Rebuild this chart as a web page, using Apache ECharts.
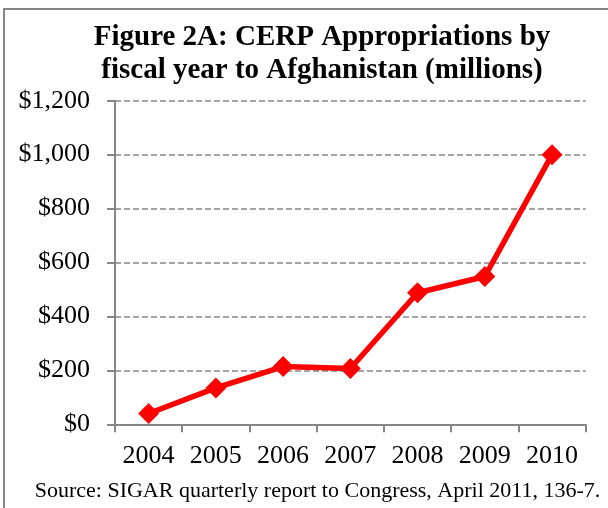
<!DOCTYPE html>
<html><head><meta charset="utf-8">
<script src="https://cdn.jsdelivr.net/npm/echarts@6/dist/echarts.min.js"></script>
<style>html,body{margin:0;padding:0;background:#fff}#c{width:608px;height:508px}</style>
</head><body><div id="c"></div>
<script>
const years = ['2004','2005','2006','2007','2008','2009','2010'];
const appropriations = [40, 135, 214, 207, 488, 548, 1000];
const yTicks = [0, 200, 400, 600, 800, 1000, 1200];
const titleLines = ['Figure 2A: CERP Appropriations by', 'fiscal year to Afghanistan (millions)'];
const sourceText = 'Source: SIGAR quarterly report to Congress, April 2011, 136-7.';

const serif = '"Liberation Serif", "DejaVu Serif", serif';
const chart = echarts.init(document.getElementById('c'));
chart.setOption({
  animation: false,
  backgroundColor: '#fff',
  title: {
    text: titleLines.join('\n'),
    left: 317, textAlign: 'center', top: 16.5,
    textStyle: { fontFamily: serif, fontSize: 29, fontWeight: 'bold', color: '#000', lineHeight: 32.5 }
  },
  graphic: [
    { type: 'rect', shape: { x: 4, y: 9, width: 620, height: 520 }, style: { fill: 'none', stroke: '#868686', lineWidth: 2 }, z: -1 },
    { type: 'text', x: 317.5, y: 491.6, style: { text: sourceText, font: '22px ' + serif, fill: '#000', align: 'center', verticalAlign: 'middle' } }
  ],
  grid: { left: 115, right: 22.3, top: 100.7, bottom: 83.7 },
  xAxis: {
    type: 'category', data: years, boundaryGap: true,
    axisLine: { lineStyle: { color: '#868686', width: 2 } },
    axisTick: { show: true, length: 8, lineStyle: { color: '#868686', width: 2 } },
    axisLabel: { fontFamily: serif, fontSize: 26, color: '#000', margin: 19, interval: 0, hideOverlap: false }
  },
  yAxis: {
    type: 'value', min: 0, max: 1200, interval: 200,
    axisLine: { show: true, lineStyle: { color: '#868686', width: 2 } },
    axisTick: { show: true, length: 8, lineStyle: { color: '#868686', width: 2 } },
    splitLine: { lineStyle: { color: '#868686', type: [6, 3], width: 1.5 } },
    axisLabel: {
      fontFamily: serif, fontSize: 26, color: '#000', margin: 25,
      formatter: v => yTicks.includes(v) ? '$' + v.toLocaleString('en-US') : ''
    }
  },
  series: [{
    type: 'line', data: appropriations,
    lineStyle: { color: '#ff0000', width: 5.5 },
    itemStyle: { color: '#ff0000' },
    symbol: 'diamond', symbolSize: 21,
    z: 5
  }]
});
</script></body></html>
